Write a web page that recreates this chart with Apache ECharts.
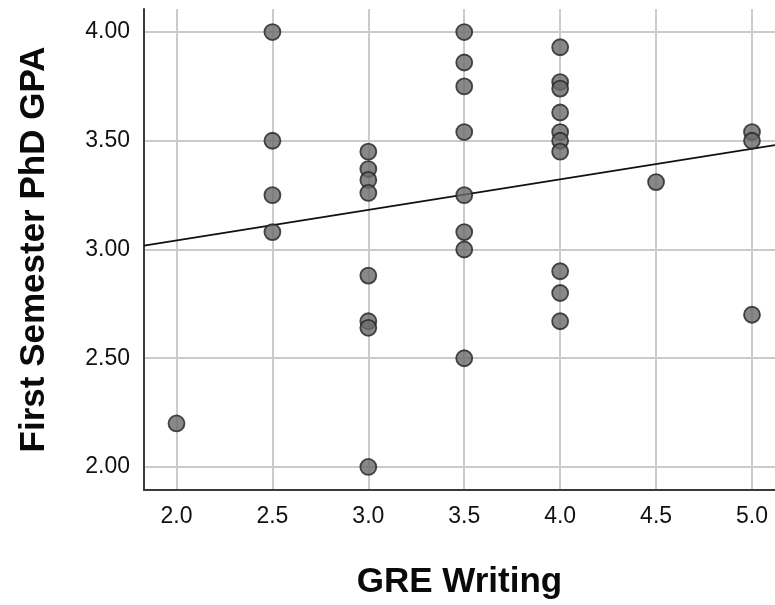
<!DOCTYPE html>
<html>
<head>
<meta charset="utf-8">
<script src="https://cdn.jsdelivr.net/npm/echarts@6/dist/echarts.min.js"></script>
<style>
html,body{margin:0;padding:0;background:#fff;}
#chart{width:775px;height:605px;}
</style>
</head>
<body>
<div id="chart"></div>
<script>
// GRE Writing score (x) and First Semester PhD GPA (y)
const greWriting = [
  2.0,
  2.5, 2.5, 2.5, 2.5,
  3.0, 3.0, 3.0, 3.0, 3.0, 3.0, 3.0, 3.0,
  3.5, 3.5, 3.5, 3.5, 3.5, 3.5, 3.5, 3.5,
  4.0, 4.0, 4.0, 4.0, 4.0, 4.0, 4.0, 4.0, 4.0, 4.0,
  4.5,
  5.0, 5.0, 5.0
];
const phdGpa = [
  2.20,
  4.00, 3.50, 3.25, 3.08,
  3.45, 3.37, 3.32, 3.26, 2.88, 2.67, 2.64, 2.00,
  4.00, 3.86, 3.75, 3.54, 3.25, 3.08, 3.00, 2.50,
  3.93, 3.77, 3.74, 3.63, 3.54, 3.50, 3.45, 2.90, 2.80, 2.67,
  3.31,
  3.54, 3.50, 2.70
];
const xTicks = [2.0, 2.5, 3.0, 3.5, 4.0, 4.5, 5.0];
const yTicks = [2.00, 2.50, 3.00, 3.50, 4.00];
const xRange = [1.8305, 5.12];
const yRange = [1.894, 4.106];
// fit line: GPA = fitIntercept + fitSlope * GRE
const fitIntercept = 2.760;
const fitSlope = 0.1407;

const points = greWriting.map((x, i) => [x, phdGpa[i]]);
const fitLine = xRange.map(x => [x, fitIntercept + fitSlope * x]);

const chart = echarts.init(document.getElementById('chart'));
const font = '"Liberation Sans", Arial, sans-serif';
chart.setOption({
  animation: false,
  backgroundColor: '#ffffff',
  grid: { left: 144, top: 9, right: 0, bottom: 115 },
  xAxis: {
    type: 'value',
    min: xRange[0], max: xRange[1],
    name: 'GRE Writing',
    nameLocation: 'middle',
    nameGap: 75,
    nameTextStyle: { fontFamily: font, fontSize: 35, fontWeight: 'bold', color: '#0a0a0a' },
    axisLine: { show: true, onZero: false, lineStyle: { color: '#3a3a3a', width: 2 } },
    axisTick: { show: false, customValues: xTicks },
    axisLabel: {
      customValues: xTicks,
      formatter: v => v.toFixed(1),
      fontFamily: font, fontSize: 23, color: '#111', margin: 15
    },
    splitLine: { show: true, lineStyle: { color: '#cbcbcb', width: 2 } }
  },
  yAxis: {
    type: 'value',
    min: yRange[0], max: yRange[1],
    name: 'First Semester PhD GPA',
    nameLocation: 'middle',
    nameGap: 92,
    nameTextStyle: { fontFamily: font, fontSize: 35, fontWeight: 'bold', color: '#0a0a0a' },
    axisLine: { show: true, onZero: false, lineStyle: { color: '#3a3a3a', width: 2 } },
    axisTick: { show: false, customValues: yTicks },
    axisLabel: {
      customValues: yTicks,
      formatter: v => v.toFixed(2),
      fontFamily: font, fontSize: 23, color: '#111', margin: 14
    },
    splitLine: { show: true, lineStyle: { color: '#cbcbcb', width: 2 } }
  },
  series: [
    {
      type: 'line',
      data: fitLine,
      symbol: 'none',
      lineStyle: { color: '#111', width: 1.8 },
      z: 3
    },
    {
      type: 'scatter',
      data: points,
      symbolSize: 16,
      itemStyle: { color: '#6a6a6a', borderColor: '#222222', borderWidth: 1.8 },
      z: 4
    }
  ]
});
</script>
</body>
</html>
